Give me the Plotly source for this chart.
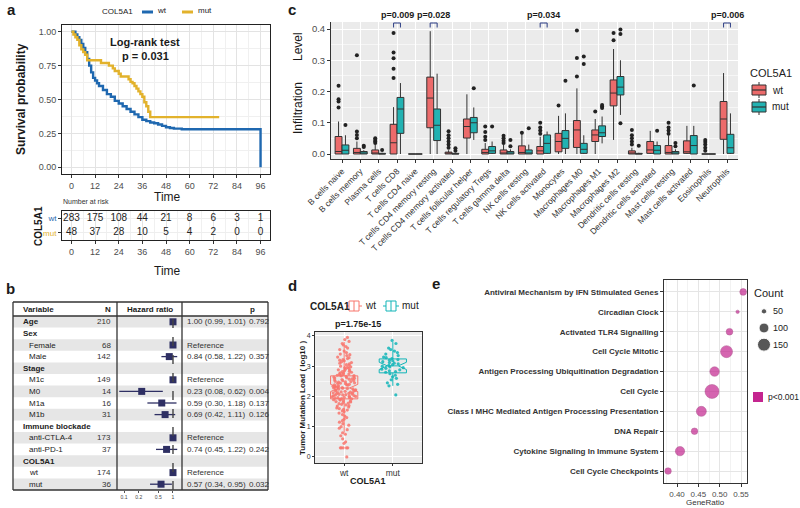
import plotly.graph_objects as go

W, H = 800, 508
def fx(px): return px / W
def fy(py): return 1 - py / H

FONT = "Liberation Sans, Arial, sans-serif"
C_WT_KM = "#1F68B0"
C_MUT_KM = "#E2B22C"
C_WT = "#EC6B6B"
C_MUT = "#22B2B2"
MAG = "#C4258F"
NAVY = "#2E2F63"

# ---------------- Panel a: KM ----------------
km_wt_time = [0,2,3,4,5,6,7,8,9,10,11,12,13,14,16,18,20,22,24,26,28,30,32,34,36,38,40,42,44,46,48,50,52,56,60,96,96]
km_wt_surv = [1,0.98,0.96,0.94,0.91,0.88,0.85,0.80,0.75,0.70,0.66,0.64,0.62,0.60,0.57,0.54,0.52,0.49,0.47,0.45,0.43,0.41,0.39,0.37,0.35,0.34,0.33,0.325,0.315,0.305,0.295,0.29,0.285,0.28,0.28,0.28,0.0]
km_mut_time = [0,1,2,3,4,5,6,7,8,15,17,19,21,22,24,25,27,29,30,31,32,33,34,35,36,37,38,39,40,75]
km_mut_surv = [1,0.98,0.96,0.94,0.90,0.87,0.85,0.83,0.79,0.77,0.77,0.75,0.73,0.71,0.69,0.67,0.67,0.65,0.63,0.62,0.60,0.58,0.56,0.54,0.52,0.48,0.45,0.41,0.37,0.37]
time_ticks = [0,12,24,36,48,60,72,84,96]
risk_wt = [283,175,108,44,21,8,6,3,1]
risk_mut = [48,37,28,10,5,4,2,0,0]

# ---------------- Panel b: forest ----------------
forest_labels = ["Age","Sex","Female","Male","Stage","M1c","M0","M1a","M1b",
                 "Immune blockade","anti-CTLA-4","anti-PD-1","COL5A1","wt","mut"]
forest_group = [True,True,False,False,True,False,False,False,False,True,False,False,True,False,False]
forest_n = [210,None,68,142,None,149,14,16,31,None,173,37,None,174,36]
forest_hr = [1.00,None,1,0.84,None,1,0.23,0.59,0.69,None,1,0.74,None,1,0.57]
forest_lo = [0.99,None,None,0.58,None,None,0.08,0.30,0.42,None,None,0.45,None,None,0.34]
forest_hi = [1.01,None,None,1.22,None,None,0.62,1.18,1.11,None,None,1.22,None,None,0.95]
forest_p = ["0.792","","","0.357","","","0.004","0.137","0.126","","","0.242","","","0.032"]
hr_ticks = [0.1,0.2,0.5,1]

# ---------------- Panel c: immune infiltration ----------------
cell_types = ["B cells naive","B cells memory","Plasma cells","T cells CD8","T cells CD4 naive",
              "T cells CD4 memory resting","T cells CD4 memory activated","T cells follicular helper",
              "T cells regulatory Tregs","T cells gamma delta","NK cells resting","NK cells activated",
              "Monocytes","Macrophages M0","Macrophages M1","Macrophages M2","Dendritic cells resting",
              "Dendritic cells activated","Mast cells resting","Mast cells activated","Eosinophils","Neutrophils"]
wt_lf  = [0,0,0,0,0,0,0,0,0,0,0,0,0,0,0,0.045,0,0,0,0,0,0]
wt_q1  = [0,0,0,0,0,0.084,0,0.051,0,0,0,0,0.007,0.021,0.040,0.154,0,0.002,0,0.002,0,0.047]
wt_med = [0.008,0.005,0.003,0.036,0,0.179,0,0.088,0.005,0.002,0.005,0.010,0.040,0.077,0.061,0.195,0.003,0.013,0.005,0.007,0,0.112]
wt_q3  = [0.056,0.018,0.013,0.095,0,0.246,0.006,0.112,0.015,0.013,0.026,0.024,0.066,0.107,0.077,0.237,0.010,0.040,0.027,0.042,0,0.168]
wt_uf  = [0.104,0.040,0.030,0.150,0,0.393,0.012,0.191,0.035,0.030,0.065,0.055,0.122,0.210,0.112,0.336,0.020,0.074,0.060,0.090,0,0.259]
wt_out = [[0.149,0.168,0.175,0.218],[0.050,0.061,0.072,0.316],[0.035,0.040,0.045,0.050],
          [0.243,0.273,0.306,0.325,0.387],[],[],[0.020,0.030,0.040,0.050,0.060,0.073],[],
          [0.045,0.055,0.070,0.088],[0.035,0.042,0.050,0.058],[0.068],[0.065,0.075,0.085,0.100],
          [0.155],[0.248,0.307,0.395],[0.136],[0.364,0.387],[0.030,0.040,0.050,0.060,0.077],[],
          [0.065,0.075,0.085,0.100],[],[0.010,0.020,0.030,0.038,0.045],[]]
mut_lf  = [0,0,0,0,0,0,0,0.045,0,0,0,0,0,0,0.034,0.125,0,0,0,0,0,0]
mut_q1  = [0,0,0,0.066,0,0.043,0,0.068,0.002,0,0,0.002,0.018,0.002,0.056,0.189,0,0,0,0,0,0.002]
mut_med = [0.012,0,0,0.144,0,0.092,0,0.100,0.010,0.002,0.003,0.034,0.050,0.015,0.068,0.214,0,0.012,0.002,0.027,0,0.020]
mut_q3  = [0.029,0.008,0.002,0.181,0,0.144,0.002,0.117,0.024,0.008,0.013,0.061,0.075,0.034,0.090,0.248,0.002,0.027,0.008,0.059,0,0.063]
mut_uf  = [0.060,0.012,0.004,0.227,0,0.257,0.004,0.149,0.040,0.015,0.030,0.072,0.130,0.060,0.120,0.300,0.004,0.040,0.015,0.090,0,0.130]
mut_out = [[0.093],[0.022,0.026],[0.013],[],[],[],[0.010,0.018],[0.210],[0.088],[0.025,0.045],
           [0.082],[],[0.234],[0.288,0.312],[0.147,0.152,0.157],[0.098,0.384,0.398],[0.026],
           [0.074],[0.025,0.035],[0.219],[],[]]
sig_idx = [3,5,11,21]
sig_text = ["p=0.009","p=0.028","p=0.034","p=0.006"]

# ---------------- Panel d: TMB ----------------
tmb_groups = ["wt","mut"]
tmb_q1 = [1.92,2.78]
tmb_med = [2.28,3.01]
tmb_q3 = [2.68,3.24]
tmb_lf = [0.80,2.35]
tmb_uf = [3.80,3.80]
tmb_notch = [0.12,0.12]
wt_tmb = [3.95,3.88,3.82,3.75,3.7,3.65,3.6,3.55,3.5,3.45,3.4,3.38,3.35,3.3,3.28,3.25,3.22,3.2,3.18,3.15,
          3.12,3.1,3.08,3.05,3.03,3.0,2.98,2.96,2.95,2.93,2.9,2.88,2.87,2.85,2.83,2.82,2.8,2.78,2.77,2.75,
          2.74,2.72,2.71,2.7,2.69,2.68,2.66,2.65,2.64,2.62,2.61,2.6,2.58,2.57,2.56,2.55,2.53,2.52,2.5,2.49,
          2.48,2.47,2.45,2.44,2.43,2.42,2.4,2.39,2.38,2.37,2.35,2.34,2.33,2.32,2.3,2.29,2.28,2.27,2.26,2.25,
          2.24,2.22,2.21,2.2,2.19,2.18,2.17,2.15,2.14,2.13,2.12,2.11,2.1,2.09,2.08,2.07,2.06,2.05,2.04,2.03,
          2.02,2.01,2.0,1.99,1.98,1.97,1.96,1.95,1.94,1.93,1.92,1.9,1.89,1.88,1.86,1.85,1.83,1.82,1.8,1.78,
          1.76,1.74,1.72,1.7,1.68,1.65,1.62,1.6,1.57,1.55,1.52,1.5,1.45,1.4,1.35,1.3,1.25,1.2,1.15,1.1,
          1.05,1.0,0.95,0.9,0.8,0.75,0.7,0.6,0.5,0.45,0.3,0.3,0.3,0.3,0.3,0.0]
mut_tmb = [3.85,3.75,3.6,3.55,3.5,3.45,3.4,3.35,3.3,3.28,3.25,3.22,3.2,3.18,3.15,3.12,3.1,3.08,3.05,3.03,
           3.0,2.98,2.95,2.93,2.9,2.88,2.85,2.82,2.8,2.75,2.7,2.65,2.6,2.55,2.45,2.4,2.35,2.05]

# ---------------- Panel e: enrichment ----------------
pathways = ["Antiviral Mechanism by IFN Stimulated Genes","Circadian Clock","Activated TLR4 Signalling",
            "Cell Cycle Mitotic","Antigen Processing Ubiquitination Degradation","Cell Cycle",
            "Class I MHC Mediated Antigen Processing Presentation","DNA Repair",
            "Cytokine Signaling In Immune System","Cell Cycle Checkpoints"]
gene_ratio = [0.555,0.542,0.523,0.516,0.488,0.482,0.457,0.441,0.407,0.379]
gene_count = [62,38,62,132,94,169,101,60,91,60]
count_legend = [50,100,150]
ratio_ticks = [0.40,0.45,0.50,0.55]

def dot_size(c):
    return max(1.41 * c - 42, 4) ** 0.5

fig = go.Figure()

# ---- a: KM curves
fig.add_trace(go.Scatter(x=km_wt_time, y=km_wt_surv, mode="lines", name="wt",
                         line=dict(color=C_WT_KM, width=2.4, shape="hv"), xaxis="x", yaxis="y"))
fig.add_trace(go.Scatter(x=km_mut_time, y=km_mut_surv, mode="lines", name="mut",
                         line=dict(color=C_MUT_KM, width=2.4, shape="hv"), xaxis="x", yaxis="y"))
fig.add_trace(go.Scatter(x=time_ticks, y=["wt"] * len(time_ticks), mode="text",
                         text=[str(v) for v in risk_wt], textfont=dict(size=10, color="#222"),
                         xaxis="x2", yaxis="y2"))
fig.add_trace(go.Scatter(x=time_ticks, y=["mut"] * len(time_ticks), mode="text",
                         text=[str(v) for v in risk_mut], textfont=dict(size=10, color="#222"),
                         xaxis="x2", yaxis="y2"))

# ---- b: forest
rows = list(range(len(forest_labels)))
est_rows = [r for r in rows if forest_hr[r] is not None]
fig.add_trace(go.Scatter(
    x=[forest_hr[r] for r in est_rows], y=est_rows, mode="markers",
    marker=dict(symbol="square", size=7, color=NAVY),
    error_x=dict(type="data", symmetric=False,
                 array=[(forest_hi[r] - forest_hr[r]) if forest_hi[r] is not None else 0 for r in est_rows],
                 arrayminus=[(forest_hr[r] - forest_lo[r]) if forest_lo[r] is not None else 0 for r in est_rows],
                 color=NAVY, thickness=1.3, width=0),
    xaxis="x3", yaxis="y3"))

# ---- c: boxplots
for nm, q1, med, q3, lf, uf, out, fc, og in [
        ("wt", wt_q1, wt_med, wt_q3, wt_lf, wt_uf, wt_out, C_WT, "wt"),
        ("mut", mut_q1, mut_med, mut_q3, mut_lf, mut_uf, mut_out, C_MUT, "mut")]:
    fig.add_trace(go.Box(x=cell_types, q1=q1, median=med, q3=q3, lowerfence=lf, upperfence=uf,
                         y=out, boxpoints="all", jitter=0, pointpos=0, name=nm,
                         marker=dict(color="#222222", size=4), fillcolor=fc,
                         line=dict(color="#333333", width=1), whiskerwidth=0,
                         offsetgroup=og, alignmentgroup="c", xaxis="x4", yaxis="y4"))

# ---- d: TMB
for i, (g, col, pts) in enumerate(zip(tmb_groups, ["#F8766D", "#12B5B8"], [wt_tmb, mut_tmb])):
    fig.add_trace(go.Box(x=[g], q1=[tmb_q1[i]], median=[tmb_med[i]], q3=[tmb_q3[i]],
                         lowerfence=[tmb_lf[i]], upperfence=[tmb_uf[i]], notched=True,
                         notchspan=[tmb_notch[i]], notchwidth=0.3,
                         y=[pts], boxpoints="all", jitter=0.9, pointpos=0, name=g,
                         marker=dict(color=col, size=3.2, opacity=0.85),
                         fillcolor="rgba(225,225,225,0.35)", line=dict(color=col, width=1),
                         whiskerwidth=0, width=0.56, offsetgroup="d", alignmentgroup="d",
                         xaxis="x5", yaxis="y5"))

# ---- e: dot plot
fig.add_trace(go.Scatter(x=gene_ratio, y=pathways, mode="markers",
                         marker=dict(size=[dot_size(c) for c in gene_count], color=MAG,
                                     line=dict(width=0.5, color="#8E1B66")),
                         xaxis="x6", yaxis="y6"))
fig.add_trace(go.Scatter(x=[0.5] * len(count_legend), y=[str(c) for c in count_legend], mode="markers",
                         marker=dict(size=[dot_size(c) for c in count_legend], color="#111111"),
                         xaxis="x7", yaxis="y7"))

# ---------------- shapes ----------------
shapes = []
def L(x0, y0, x1, y1, color="#333333", width=1.0):
    shapes.append(dict(type="line", xref="paper", yref="paper", x0=fx(x0), x1=fx(x1), y0=fy(y0), y1=fy(y1),
                       line=dict(color=color, width=width)))
def R(x0, y0, x1, y1, fill, line_color=None, width=0, layer="above"):
    shapes.append(dict(type="rect", xref="paper", yref="paper", x0=fx(x0), x1=fx(x1), y0=fy(y1), y1=fy(y0),
                       fillcolor=fill, line=dict(width=width, color=line_color or fill), layer=layer))

# b table
TL, TR, TT, TB, HB = 13, 268, 302, 490, 316
ROWH = (TB - HB) / len(forest_labels)
for r in rows:
    if r % 2 == 0:
        R(TL, HB + ROWH * r, TR, HB + ROWH * (r + 1), "#E6E6E6", layer="below")
for (x0, y0, x1, y1) in [(TL, TT, TR, TT), (TL, HB, TR, HB), (TL, TB, TR, TB),
                         (TL, TT, TL, TB), (TR, TT, TR, TB), (117, TT, 117, TB), (182, TT, 182, TB)]:
    L(x0, y0, x1, y1, width=1.3)
shapes.append(dict(type="line", xref="x3", yref="paper", x0=1, x1=1, y0=fy(TB), y1=fy(HB),
                   line=dict(color="#444444", width=1.4, dash="dash")))
# c / d gray backgrounds
for ax in ["4", "5"]:
    shapes.append(dict(type="rect", xref="x%s domain" % ax, yref="y%s domain" % ax, x0=0, x1=1, y0=0, y1=1,
                       fillcolor="#EBEBEB", line=dict(width=0), layer="below"))
# significance brackets
for i in sig_idx:
    for (a, b, ya, yb) in [(-0.19, 0.19, 23, 23), (-0.19, -0.19, 23, 27.5), (0.19, 0.19, 23, 27.5)]:
        shapes.append(dict(type="line", xref="x4", yref="paper", x0=i + a, x1=i + b, y0=fy(ya), y1=fy(yb),
                           line=dict(color="#3A4A8C", width=1.1)))

# legend glyphs
L(142, 12, 153, 12, color=C_WT_KM, width=3)
L(182, 12, 193, 12, color=C_MUT_KM, width=3)
for yc, fc in [(90, C_WT), (107, C_MUT)]:
    L(759, yc - 8, 759, yc - 5, color="#333", width=1)
    L(759, yc + 5, 759, yc + 8, color="#333", width=1)
    R(752, yc - 5, 766, yc + 5, fc, line_color="#333", width=1)
    L(752, yc, 766, yc, color="#333", width=1.2)
for xc, col in [(354, "#F8766D"), (391, "#12B5B8")]:
    L(xc - 8, 306, xc - 5, 306, color=col, width=1)
    L(xc + 5, 306, xc + 8, 306, color=col, width=1)
    R(xc - 5, 301, xc + 5, 311, "rgba(255,255,255,0)", line_color=col, width=1)
    L(xc, 301, xc, 311, color=col, width=1)
R(753, 392, 763, 402, MAG)

# ---------------- annotations ----------------
ann = []
def A(text, x, y, size=9, bold=False, xanchor="center", yanchor="middle", angle=0, color="#1A1A1A",
      xref="paper", yref="paper"):
    ann.append(dict(text=("<b>%s</b>" % text) if bold else text,
                    x=fx(x) if xref == "paper" else x, y=fy(y) if yref == "paper" else y,
                    xref=xref, yref=yref, xanchor=xanchor, yanchor=yanchor, showarrow=False,
                    textangle=angle, font=dict(size=size, color=color, family=FONT)))

for lab, x, y in [("a", 11, 10), ("b", 10, 288), ("c", 292, 10), ("d", 292, 285), ("e", 436, 283)]:
    A(lab, x, y, size=15, bold=True)
A("COL5A1", 100, 12, size=8, xanchor="left", color="#222")
A("wt", 155, 11, size=8, xanchor="left", color="#222")
A("mut", 196, 11, size=8, xanchor="left", color="#222")
A("Survival probability", 21, 99, size=12, bold=True, angle=-90)
A("Log-rank test", 145, 42, size=11, bold=True)
A("p = 0.031", 145, 56, size=11, bold=True)
A("Time", 167, 197, size=12)
A("Number at risk", 61, 202, size=7, xanchor="left", color="#333")
A("COL5A1", 38, 226, size=10, bold=True, angle=-90)
A("Time", 167, 271, size=12)
A("Variable", 21, 309, size=8, bold=True, xanchor="left")
A("N", 113, 309, size=8, bold=True, xanchor="right")
A("Hazard ratio", 149.5, 309, size=8, bold=True)
A("p", 248, 309, size=8, bold=True, xanchor="left")
for r in rows:
    A(forest_labels[r], 21 if forest_group[r] else 27, r, size=8, bold=forest_group[r], xanchor="left",
      yref="y3", color="#222")
    if forest_n[r] is not None:
        A(str(forest_n[r]), 113, r, size=8, xanchor="right", yref="y3", color="#333")
    if forest_hr[r] is not None:
        if forest_lo[r] is None:
            txt = "Reference"
        else:
            txt = "%.2f (%.2f, %.2f)" % (forest_hr[r], forest_lo[r], forest_hi[r])
        A(txt, 185, r, size=8, xanchor="left", yref="y3", color="#333")
    if forest_p[r]:
        A(forest_p[r], 247, r, size=8, xanchor="left", yref="y3", color="#333")
A("Level", 298, 47, size=12, angle=-90)
A("Infiltration", 298, 108, size=12, angle=-90)
for i, t in zip(sig_idx, sig_text):
    ann.append(dict(text="<b>%s</b>" % t, x=i, y=fy(15), xref="x4", yref="paper", showarrow=False,
                    xanchor="center", yanchor="middle", font=dict(size=9, color="#1A1A1A", family=FONT)))
A("COL5A1", 748, 73, size=11, xanchor="left", color="#222")
A("wt", 770, 90, size=10, xanchor="left", color="#222")
A("mut", 770, 107, size=10, xanchor="left", color="#222")
A("COL5A1", 308, 306, size=10, bold=True, xanchor="left", color="#222")
A("wt", 363, 305, size=10, xanchor="left", color="#222")
A("mut", 400, 305, size=10, xanchor="left", color="#222")
A("Tumor Mutation Load ( log10 )", 302, 398, size=8, bold=True, angle=-90)
A("p=1.75e-15", 358, 324, size=9, bold=True)
A("COL5A1", 368, 481, size=9, bold=True)
A("GeneRatio", 705, 502, size=8, color="#333")
A("Count", 752, 293, size=11, xanchor="left", color="#222")
A("p<0.001", 766, 397, size=8.5, xanchor="left", color="#222")

# ---------------- layout ----------------
tickf = dict(size=9, color="#4D4D4D", family=FONT)

def km_x(anchor, dom):
    return dict(domain=dom, anchor=anchor, range=[-4.8, 100.8], tickvals=time_ticks,
                showgrid=True, gridcolor="#E3E3E3", gridwidth=0.8,
                minor=dict(tick0=6, dtick=12, showgrid=True, gridcolor="#F0F0F0", gridwidth=0.6),
                showline=True, mirror=True, linecolor="#222", linewidth=1, ticks="outside", ticklen=3,
                tickcolor="#333", tickfont=tickf, zeroline=False)

dom_a = [fx(62), fx(270)]
layout = dict(
    width=W, height=H, margin=dict(l=0, r=0, t=0, b=0, autoexpand=False),
    paper_bgcolor="white", plot_bgcolor="rgba(0,0,0,0)", showlegend=False,
    font=dict(family=FONT, color="#1A1A1A"),
    boxmode="group", boxgap=0.25, boxgroupgap=0,
    shapes=shapes, annotations=ann,
    xaxis=km_x("y", dom_a),
    yaxis=dict(domain=[fy(174), fy(25)], anchor="x", range=[-0.05, 1.05],
               tickvals=[0, 0.25, 0.5, 0.75, 1], ticktext=["0.00", "0.25", "0.50", "0.75", "1.00"],
               showgrid=True, gridcolor="#E3E3E3", gridwidth=0.8,
               minor=dict(tick0=0.125, dtick=0.25, showgrid=True, gridcolor="#F0F0F0", gridwidth=0.6),
               showline=True, mirror=True, linecolor="#222", linewidth=1, ticks="outside", ticklen=3,
               tickcolor="#333", tickfont=tickf, zeroline=False),
    xaxis2=km_x("y2", dom_a),
    yaxis2=dict(domain=[fy(240), fy(211)], anchor="x2", type="category", categoryorder="array",
                categoryarray=["wt", "mut"], range=[1.5, -0.5], tickvals=["wt", "mut"],
                ticktext=["<span style='color:%s'>wt</span>" % C_WT_KM,
                          "<span style='color:%s'>mut</span>" % C_MUT_KM],
                showline=True, mirror=True, linecolor="#222", linewidth=1, ticks="outside", ticklen=3,
                tickcolor="#333", tickfont=dict(size=8, family=FONT), showgrid=True, gridcolor="#EEEEEE"),
    xaxis3=dict(domain=[fx(117), fx(182)], anchor="y3", type="log", range=[-1.143, 0.184],
                tickvals=hr_ticks, ticktext=["0.1", "0.2", "0.5", "1"], tickfont=dict(size=5, color="#444"),
                ticks="outside", ticklen=2, tickcolor="#555", showgrid=False, showline=False, zeroline=False),
    yaxis3=dict(domain=[fy(TB), fy(HB)], anchor="x3", range=[len(forest_labels) - 0.5, -0.5], visible=False),
    xaxis4=dict(domain=[fx(331), fx(738)], anchor="y4", type="category", categoryorder="array",
                categoryarray=cell_types, range=[-0.6, len(cell_types) - 0.4], tickangle=-45,
                tickfont=dict(size=8.5, color="#333", family=FONT), showgrid=True, gridcolor="white",
                gridwidth=1, ticks="outside", ticklen=3, tickcolor="#333", showline=True,
                linecolor="#333", linewidth=1),
    yaxis4=dict(domain=[fy(159), fy(22)], anchor="x4", range=[-0.016, 0.4224],
                tickvals=[0, 0.1, 0.2, 0.3, 0.4], ticktext=["0.0", "0.1", "0.2", "0.3", "0.4"],
                showgrid=True, gridcolor="white", gridwidth=1,
                minor=dict(tick0=0.05, dtick=0.1, showgrid=True, gridcolor="#F6F6F6", gridwidth=0.5),
                ticks="outside", ticklen=3, tickcolor="#333", showline=True, linecolor="#333", linewidth=1,
                tickfont=dict(size=9.5, color="#4D4D4D"), zeroline=False),
    xaxis5=dict(domain=[fx(315), fx(422)], anchor="y5", type="category", categoryorder="array",
                categoryarray=tmb_groups, range=[-0.6, 1.6], showgrid=True, gridcolor="white",
                ticks="outside", ticklen=2, tickcolor="#333", showline=True, mirror=True, linecolor="#333",
                tickfont=dict(size=8.5, color="#333")),
    yaxis5=dict(domain=[fy(463), fy(332)], anchor="x5", range=[-0.2, 4.13], tickvals=[0, 1, 2, 3, 4],
                ticktext=["0", "1", "2", "3", "4"], showgrid=True, gridcolor="white",
                minor=dict(tick0=0.5, dtick=1, showgrid=True, gridcolor="#F6F6F6", gridwidth=0.5),
                ticks="outside", ticklen=2, tickcolor="#333", showline=True, mirror=True, linecolor="#333",
                tickfont=dict(size=7, color="#333"), zeroline=False),
    xaxis6=dict(domain=[fx(664), fx(747)], anchor="y6", range=[0.3695, 0.564], tickvals=ratio_ticks,
                ticktext=["0.40", "0.45", "0.50", "0.55"], showgrid=True, gridcolor="#E5E5E5",
                minor=dict(tick0=0.375, dtick=0.05, showgrid=True, gridcolor="#F2F2F2"),
                ticks="outside", ticklen=3, tickcolor="#333", showline=True, mirror=True, linecolor="#333",
                tickfont=dict(size=8, color="#4D4D4D"), zeroline=False),
    yaxis6=dict(domain=[fy(483), fy(280)], anchor="x6", type="category", categoryorder="array",
                categoryarray=pathways, range=[len(pathways) - 0.4, -0.6], tickvals=pathways,
                ticktext=["<b>%s</b>" % p for p in pathways], showgrid=True, gridcolor="#E5E5E5",
                ticks="outside", ticklen=3, tickcolor="#333", showline=True, mirror=True, linecolor="#333",
                tickfont=dict(size=8, color="#333")),
    xaxis7=dict(domain=[fx(756), fx(772)], anchor="y7", range=[0, 1], visible=False),
    yaxis7=dict(domain=[fy(353), fy(303)], anchor="x7", type="category", categoryorder="array",
                categoryarray=[str(c) for c in count_legend], range=[2.5, -0.5], side="right",
                showline=False, showgrid=False, ticks="", tickfont=dict(size=9, color="#222")),
)
fig.update_layout(**layout)
# remove the default page margin so the 800x508 figure fills the window exactly; hide the mode bar
fig.write_html("out.html", config={"displayModeBar": False},
               post_script="document.body.style.margin='0px';")
